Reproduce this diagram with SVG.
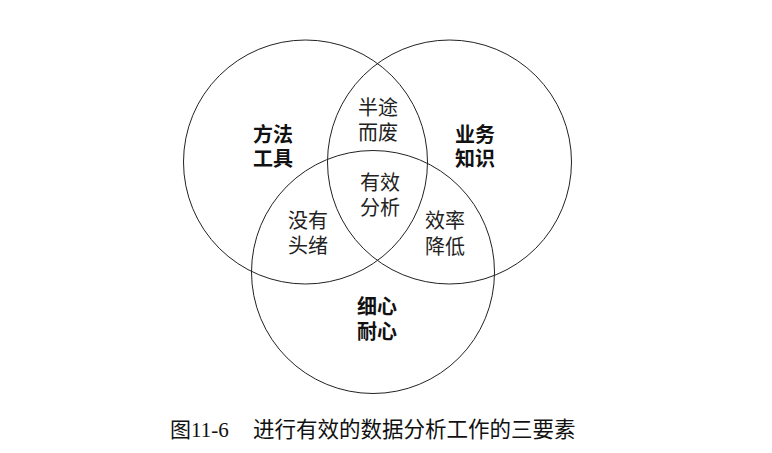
<svg xmlns="http://www.w3.org/2000/svg" width="772" height="453" viewBox="0 0 772 453">
<style>
.c{fill:none;stroke:#222;stroke-width:1}
.t{font-family:"Noto Sans CJK SC",sans-serif;font-size:20px;fill:#222;text-anchor:middle}
.b{font-weight:bold;fill:#111}
.cap{font-family:"Liberation Serif","Noto Sans CJK SC",serif;font-size:21px;fill:#111}
</style>
<rect width="772" height="453" fill="#fff"/>
<g id="connectors"></g>
<g id="circle-method"><circle class="c" cx="305.5" cy="162" r="122"/></g>
<g id="circle-business"><circle class="c" cx="449.5" cy="162" r="122"/></g>
<g id="circle-patience"><circle class="c" cx="373" cy="272" r="121.5"/></g>
<g id="label-method"><text class="t b" x="273" y="142">方法<tspan x="273" dy="24">工具</tspan></text></g>
<g id="label-business"><text class="t b" x="475" y="142">业务<tspan x="475" dy="24">知识</tspan></text></g>
<g id="label-patience"><text class="t b" x="377" y="314">细心<tspan x="377" dy="25">耐心</tspan></text></g>
<g id="label-halfway"><text class="t" x="378" y="115">半途<tspan x="378" dy="25">而废</tspan></text></g>
<g id="label-effective"><text class="t" x="380" y="190">有效<tspan x="380" dy="25">分析</tspan></text></g>
<g id="label-clueless"><text class="t" x="308" y="228">没有<tspan x="308" dy="25">头绪</tspan></text></g>
<g id="label-inefficient"><text class="t" x="445" y="228">效率<tspan x="445" dy="26">降低</tspan></text></g>
<g id="caption"><text class="cap" x="170" y="437">图11-6<tspan x="253" style="font-family:'Noto Sans CJK SC',sans-serif;font-size:21.5px">进行有效的数据分析工作的三要素</tspan></text></g>
</svg>
